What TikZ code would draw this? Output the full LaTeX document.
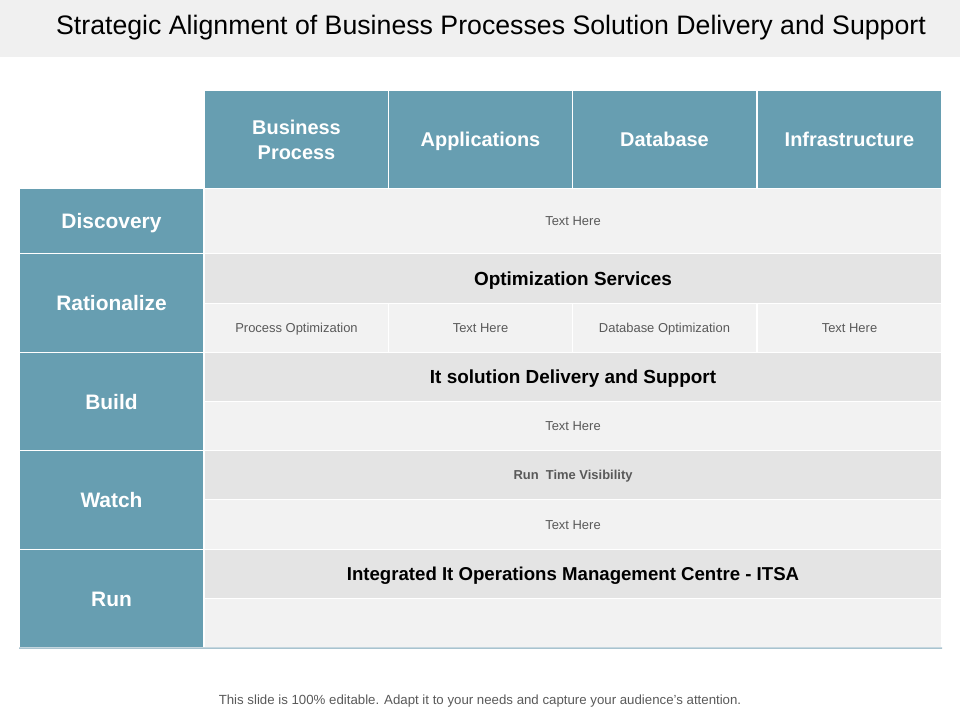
\documentclass[tikz,border=0pt]{standalone}
\usepackage{fontspec}
\setmainfont{Liberation Sans}
\definecolor{azzurro}{HTML}{679EB1}
\definecolor{grigiochiaro}{HTML}{F2F2F2}
\definecolor{grigioscuro}{HTML}{E4E4E4}
\definecolor{barra}{HTML}{F0F0F0}
\definecolor{testogrigio}{HTML}{595959}
\definecolor{linea}{HTML}{A8C3CF}

\begin{document}
\begin{tikzpicture}[x=1bp, y=-1bp,
    every node/.style={rectangle, inner sep=0pt, align=center, anchor=north west},
    fisso/.style={text height=#1, text depth=0pt},
    testa/.style={fisso=14.4bp, draw=white, line width=1bp, fill=azzurro, text=white,
      font=\bfseries\fontsize{20}{25}\selectfont, minimum width=184bp, minimum height=98bp},
    lato/.style={fisso=15.1bp, draw=white, line width=1bp, fill=azzurro, text=white,
      font=\bfseries\fontsize{21}{25}\selectfont, minimum width=184bp},
    chiaro/.style={fisso=9.4bp, draw=white, line width=1bp, fill=grigiochiaro, text=testogrigio,
      font=\fontsize{13}{15}\selectfont, minimum width=737bp, minimum height=49bp},
    scuro/.style={fisso=13.7bp, draw=white, line width=1bp, fill=grigioscuro, text=black,
      font=\bfseries\fontsize{19}{22}\selectfont, minimum width=737bp, minimum height=49bp},
    piccola/.style={chiaro, minimum width=184bp}]
  \useasboundingbox (0,0) rectangle (960,720);

  % Titolo
  \node (barra) at (0,0) [fill=barra, minimum width=960bp, minimum height=57bp] {};
  \node (titolo) at (491,35) [anchor=base, font=\fontsize{26.8}{30}\selectfont]
    {Strategic Alignment of Business Processes Solution Delivery and Support};

  % Intestazioni
  \node (bp) at (204,90) [testa, text height=, text depth=] {Business\\Process};
  \node (app) at (388,90) [testa] {Applications};
  \node (db) at (572,90) [testa] {Database};
  \node (infra) at (757,90) [testa] {Infrastructure};

  % Fasi
  \node (disc) at (19,188) [lato, minimum height=65bp] {Discovery};
  \node (rat) at (19,253) [lato, minimum height=99bp] {Rationalize};
  \node (build) at (19,352) [lato, minimum height=98bp] {Build};
  \node (watch) at (19,450) [lato, minimum height=99bp] {Watch};
  \node (run) at (19,549) [lato, minimum height=98bp] {Run};

  % Contenuti
  \node (t1) at (204,188) [chiaro, minimum height=65bp] {Text Here};
  \node (opt) at (204,253) [scuro, minimum height=50bp] {Optimization Services};
  \node (p1) at (204,303) [piccola] {Process Optimization};
  \node (p2) at (388,303) [piccola] {Text Here};
  \node (p3) at (572,303) [piccola] {Database Optimization};
  \node (p4) at (757,303) [piccola] {Text Here};
  \node (sol) at (204,352) [scuro] {It solution Delivery and Support};
  \node (t2) at (204,401) [chiaro] {Text Here};
  \node (vis) at (204,450) [scuro, fisso=9.4bp, text=testogrigio, font=\bfseries\fontsize{13}{15}\selectfont]
    {Run\ \ Time Visibility};
  \node (t3) at (204,499) [chiaro, minimum height=50bp] {Text Here};
  \node (itsa) at (204,549) [scuro, font=\bfseries\fontsize{18.7}{22}\selectfont]
    {Integrated It Operations Management Centre - ITSA};
  \node (vuoto) at (204,598) [chiaro] {};

  % Linea di chiusura
  \draw[linea, line width=1.5bp] (run.south west) -- (vuoto.south east);

  % Nota
  \node (nota) at (480,704) [anchor=base, text=testogrigio, font=\fontsize{13.3}{15}\selectfont]
    {This slide is 100\% editable. Adapt it to your needs and capture your audience's attention.};
\end{tikzpicture}
\end{document}
